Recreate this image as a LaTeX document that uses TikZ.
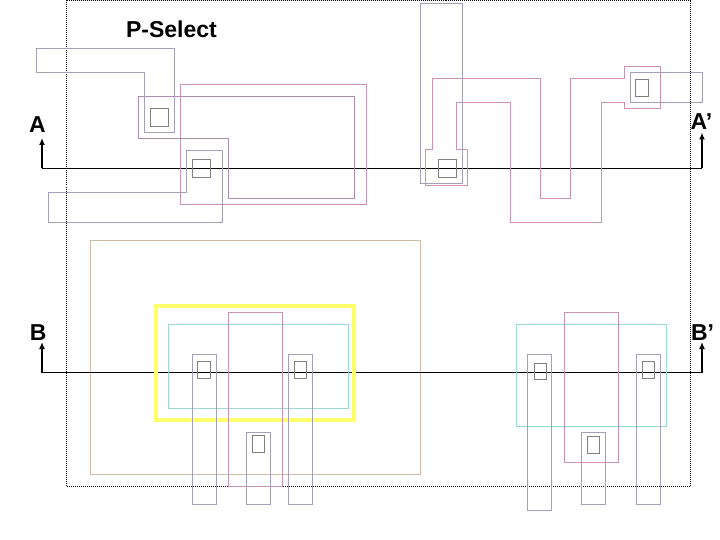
\documentclass[tikz,border=0pt]{standalone}
\usepackage{fontspec}
\setmainfont{Liberation Sans}
\usetikzlibrary{arrows.meta}
\definecolor{polycol}{HTML}{A4A0B8}
\definecolor{metalcol}{HTML}{CA94B4}
\definecolor{mixcol}{HTML}{AC8CAC}
\definecolor{wellcol}{HTML}{CDBDA8}
\definecolor{activecol}{HTML}{9CD8D0}
\definecolor{selectcol}{HTML}{FFFF6C}
\definecolor{contactcol}{HTML}{808080}
\tikzset{
  poly/.style={draw=polycol,line width=1pt},
  metal/.style={draw=metalcol,line width=1pt},
  mixed/.style={draw=mixcol,line width=1pt},
  well/.style={draw=wellcol,line width=1pt},
  active/.style={draw=activecol,line width=1pt},
  select/.style={draw=selectcol,line width=4pt},
  contact/.style={draw=contactcol,line width=1pt},
  frame/.style={draw=black,line width=1pt,dash pattern=on 1pt off 1pt},
  cut/.style={draw=black,line width=1pt},
  cutarrow/.style={draw=black,line width=1.6pt,-{Latex[length=7pt,width=6pt]}},
  lbl/.style={inner sep=0pt,font=\fontsize{23}{23}\selectfont\bfseries}
}
\begin{document}
\begin{tikzpicture}[x=1pt,y=-1pt]
  \useasboundingbox (0,0) rectangle (720,540);
  \draw[frame] (66.5,0.5) rectangle (690.5,486.5);
  \draw[well] (90.5,240.5) rectangle (420.5,474.5);

  \coordinate (aleft) at (42,168.5);
  \coordinate (aright) at (702,168.5);
  \coordinate (atipl) at (42,138);
  \coordinate (atipr) at (702,132.5);
  \coordinate (bleft) at (42,372.5);
  \coordinate (bright) at (702,372.5);
  \coordinate (btipl) at (42,342);
  \coordinate (btipr) at (702,342);
  \draw[cutarrow] (aleft) -- (atipl);
  \draw[cutarrow] (aright) -- (atipr);
  \draw[cut] (aleft) -- (aright);
  \draw[cutarrow] (bleft) -- (btipl);
  \draw[cutarrow] (bright) -- (btipr);
  \draw[cut] (bleft) -- (bright);

  \draw[select] (156,306) rectangle (354,420);
  \draw[active] (168.5,324.5) rectangle (348.5,408.5);
  \draw[active] (516.5,324.5) rectangle (666.5,426.5);

  \draw[metal] (180.5,84.5) rectangle (366.5,204.5);
  \draw[mixed] (138.5,96.5) -- (354.5,96.5) -- (354.5,198.5) -- (228.5,198.5)
    -- (228.5,138.5) -- (138.5,138.5) -- cycle;
  \draw[metal] (425.5,149.5) -- (432.5,149.5) -- (432.5,78.5) -- (540.5,78.5)
    -- (540.5,198.5) -- (570.5,198.5) -- (570.5,78.5) -- (624.5,78.5)
    -- (624.5,66.5) -- (660.5,66.5) -- (660.5,108.5) -- (624.5,108.5)
    -- (624.5,102.5) -- (601,102.5) -- (601,222.5) -- (510.5,222.5)
    -- (510.5,102.5) -- (456.5,102.5) -- (456.5,149.5) -- (467.5,149.5)
    -- (467.5,185.5) -- (425.5,185.5) -- cycle;
  \draw[metal] (228.5,312.5) rectangle (282.5,486.5);
  \draw[metal] (564.5,312.5) rectangle (618.5,462.5);

  \draw[poly] (36.5,48.5) -- (174.5,48.5) -- (174.5,132.5) -- (144.5,132.5)
    -- (144.5,72.5) -- (36.5,72.5) -- cycle;
  \draw[poly] (48.5,192.5) -- (186.5,192.5) -- (186.5,150.5) -- (222.5,150.5)
    -- (222.5,222.5) -- (48.5,222.5) -- cycle;
  \draw[poly] (420.5,3.5) rectangle (462.5,183.5);
  \draw[poly] (630.5,72.5) rectangle (702.5,102.5);
  \draw[poly] (192.5,354.5) rectangle (216.5,504.5);
  \draw[poly] (288.5,354.5) rectangle (312.5,504.5);
  \draw[poly] (246.5,432.5) rectangle (270.5,504.5);
  \draw[poly] (527.5,354.5) rectangle (551.5,510.5);
  \draw[poly] (636.5,354.5) rectangle (660.5,504.5);
  \draw[poly] (581.5,432.5) rectangle (605.5,504.5);

  \draw[contact] (150.5,108.5) rectangle (168.5,126.5);
  \draw[contact] (192.5,159.5) rectangle (210.5,177.5);
  \draw[contact] (438.5,159.5) rectangle (456.5,177.5);
  \draw[contact] (635.5,79.5) rectangle (648.5,96.5);
  \draw[contact] (197.5,361.5) rectangle (210.5,378.5);
  \draw[contact] (294.5,361.5) rectangle (306.5,378.5);
  \draw[contact] (252.5,435.5) rectangle (264.5,452.5);
  \draw[contact] (534.5,363.5) rectangle (546.5,379.5);
  \draw[contact] (642.5,361.5) rectangle (654.5,378.5);
  \draw[contact] (587.5,436.5) rectangle (599.5,453.5);

  \node[lbl] (pselect) at (171.5,29.5) {P-Select};
  \node[lbl] (alabel) at (37.5,125) {A};
  \node[lbl] (aplabel) at (701.5,122) {A'};
  \node[lbl] (blabel) at (38.3,333) {B};
  \node[lbl] (bplabel) at (702.5,333) {B'};
\end{tikzpicture}
\end{document}
